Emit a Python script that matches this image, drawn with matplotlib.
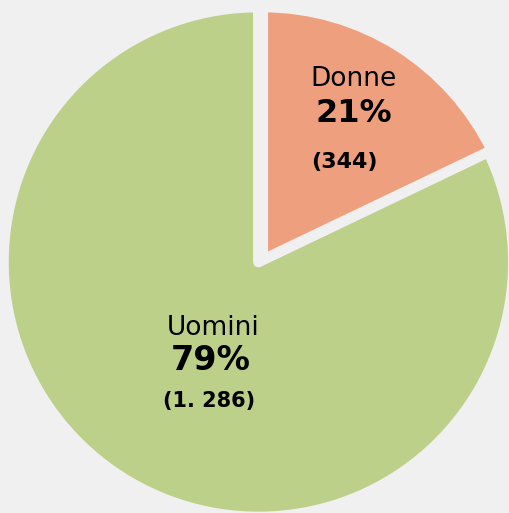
import matplotlib.pyplot as plt

labels = ['Donne', 'Uomini']
counts = [344, 1286]
percent_labels = ['21%', '79%']
count_labels = ['(344)', '(1. 286)']
# the slices as drawn in the picture (not quite 21/79)
drawn_shares = [17.9, 82.1]
colors = ['#ee9f7e', '#bdd08a']
bg = '#f0f0f0'

fig = plt.figure(figsize=(5.09, 5.13), dpi=100, facecolor=bg)
ax = fig.add_axes([0, 0, 1, 1])
ax.set_facecolor(bg)

cx, cy = 258.4, 513 - 262
wedges, _ = ax.pie(drawn_shares, colors=colors, startangle=90, counterclock=False,
                   center=(cx, cy), radius=255,
                   wedgeprops=dict(edgecolor=bg, linewidth=7.7, joinstyle='round'))
# Donne slice is pushed a little to the right
wedges[0].set_center((cx + 4.3, cy))

# pie() resets the limits, so set them afterwards
ax.set_xlim(0, 509)
ax.set_ylim(0, 513)
ax.set_aspect('equal')
ax.axis('off')

# slice labels
ax.text(354, 513 - 79, labels[0], ha='center', va='center', fontsize=19)
ax.text(354, 513 - 113, percent_labels[0], ha='center', va='center',
        fontsize=23, fontweight='bold')
ax.text(344, 513 - 162, count_labels[0], ha='center', va='center',
        fontsize=16, fontweight='bold')

ax.text(213, 513 - 328, labels[1], ha='center', va='center', fontsize=19)
ax.text(211, 513 - 361, percent_labels[1], ha='center', va='center',
        fontsize=24, fontweight='bold')
ax.text(209, 513 - 401, count_labels[1], ha='center', va='center',
        fontsize=15, fontweight='bold')

fig.savefig('out.png', dpi=100, facecolor=bg)
